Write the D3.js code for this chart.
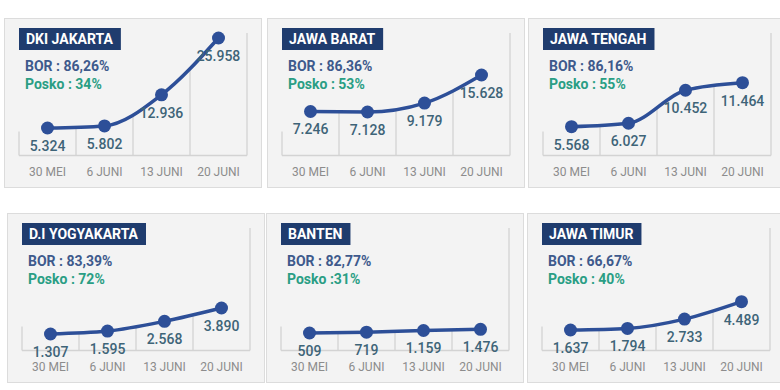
<!DOCTYPE html>
<html>
<head>
<meta charset="utf-8">
<script src="https://cdn.jsdelivr.net/npm/d3@7"></script>
<style>
  body { margin: 0; background: #fff; }
  svg { display: block; font-family: Roboto, "Noto Sans", sans-serif; }
</style>
</head>
<body>
<div id="chart"></div>
<script>
// Data
const dates = ["30 MEI", "6 JUNI", "13 JUNI", "20 JUNI"];
const provinces = ["DKI JAKARTA", "JAWA BARAT", "JAWA TENGAH", "D.I YOGYAKARTA", "BANTEN", "JAWA TIMUR"];
const borLabels = ["BOR : 86,26%", "BOR : 86,36%", "BOR : 86,16%", "BOR : 83,39%", "BOR : 82,77%", "BOR : 66,67%"];
const poskoLabels = ["Posko : 34%", "Posko : 53%", "Posko : 55%", "Posko : 72%", "Posko :31%", "Posko : 40%"];
const cases = [
  [5324, 5802, 12936, 25958],
  [7246, 7128, 9179, 15628],
  [5568, 6027, 10452, 11464],
  [1307, 1595, 2568, 3890],
  [509, 719, 1159, 1476],
  [1637, 1794, 2733, 4489]
];

// Layout
const width = 780, height = 390;
const panelW = 257, panelH = 169;
const panelPos = [[4, 18], [267, 18], [528, 18], [7, 213], [266, 213], [527, 213]];
// vertical pixel range (min value -> max value) of each little chart
const yRanges = [[110, 20], [94, 57], [108.7, 64.7], [121, 95], [120, 116.3], [117, 88.7]];
const axisY = 137.5;

const lineColor = "#2d4f98";
const gridColor = "#d3d3d3";

const idLocale = d3.formatLocale({decimal: ",", thousands: ".", grouping: [3], currency: ["Rp", ""]});
const fmt = idLocale.format(",d");

const svg = d3.select("#chart")
  .append("svg")
    .attr("width", width)
    .attr("height", height)
    .attr("viewBox", [0, 0, width, height]);

const xScale = d3.scaleBand()
  .domain(dates)
  .range([15, 243])
  .padding(0);

provinces.forEach((prov, i) => {
  const g = svg.append("g")
    .attr("transform", `translate(${panelPos[i][0]}, ${panelPos[i][1]})`);

  // panel background
  g.append("rect")
    .attr("x", 0.5).attr("y", 0.5)
    .attr("width", panelW).attr("height", panelH)
    .attr("fill", "#f3f3f3")
    .attr("stroke", "#dcdcdc");

  const values = cases[i];
  const yScale = d3.scaleLinear()
    .domain(d3.extent(values))
    .range(yRanges[i]);

  const pts = values.map((v, j) => ({date: dates[j], value: v}));

  const lineGenerator = d3.line()
    .x(d => xScale(d.date) + xScale.bandwidth() / 2)
    .y(d => yScale(d.value))
    .curve(d3.curveMonotoneX);

  const gridG = g.append("g");

  const path = g.append("path")
    .attr("d", lineGenerator(pts))
    .attr("fill", "none")
    .attr("stroke", lineColor)
    .attr("stroke-width", 3.5)
    .attr("stroke-linecap", "round");

  // find y of the curve at a given x (separators stop at the line)
  const node = path.node();
  const total = node.getTotalLength();
  const samples = d3.range(0, total, 0.5).map(l => node.getPointAtLength(l));
  const curveYAt = x => {
    const p = samples.reduce((a, b) => Math.abs(b.x - x) < Math.abs(a.x - x) ? b : a);
    return p.y;
  };

  // separators
  const bounds = dates.map(d => xScale(d)).concat([xScale.range()[1]]);
  gridG.selectAll("line.sep")
    .data(bounds)
    .join("line")
      .attr("class", "sep")
      .attr("x1", d => d).attr("x2", d => d)
      .attr("y1", axisY)
      .attr("y2", (d, k) => {
        if (k === 0) return axisY - 24;
        if (k === bounds.length - 1) return 15;
        return curveYAt(d);
      })
      .attr("stroke", gridColor)
      .attr("stroke-width", 1.3);
  gridG.append("line")
    .attr("x1", xScale.range()[0]).attr("x2", xScale.range()[1])
    .attr("y1", axisY).attr("y2", axisY)
    .attr("stroke", gridColor)
    .attr("stroke-width", 1.3);

  // x labels
  g.selectAll("text.xlab")
    .data(dates)
    .join("text")
      .attr("class", "xlab")
      .attr("x", d => xScale(d) + xScale.bandwidth() / 2)
      .attr("y", 158)
      .attr("text-anchor", "middle")
      .attr("fill", "#8c8c8c")
      .style("font-size", "12px")
      .text(d => d);

  // points
  g.selectAll("circle")
    .data(pts)
    .join("circle")
      .attr("cx", d => xScale(d.date) + xScale.bandwidth() / 2)
      .attr("cy", d => yScale(d.value))
      .attr("r", 6.5)
      .attr("fill", lineColor);

  // value labels
  g.selectAll("text.val")
    .data(pts)
    .join("text")
      .attr("class", "val")
      .attr("x", d => xScale(d.date) + xScale.bandwidth() / 2)
      .attr("y", d => yScale(d.value) + 18)
      .attr("dy", "0.35em")
      .attr("text-anchor", "middle")
      .attr("fill", "#3e6478")
      .style("font-size", "14px")
      .style("font-weight", 500)
      .text(d => fmt(d.value));

  // title box
  const title = g.append("text")
    .attr("x", 22)
    .attr("y", 26)
    .attr("fill", "#fff")
    .style("font-size", "14px")
    .style("font-weight", 700)
    .text(prov);
  const tw = title.node().getComputedTextLength();
  g.insert("rect", "text")
    .attr("x", 15).attr("y", 10)
    .attr("width", tw + 15).attr("height", 22)
    .attr("fill", "#1f3c6e");
  title.raise();

  g.append("text")
    .attr("x", 21).attr("y", 53)
    .attr("fill", "#3e5a8c")
    .style("font-size", "14px")
    .style("font-weight", 700)
    .text(borLabels[i]);
  g.append("text")
    .attr("x", 21).attr("y", 71)
    .attr("fill", "#2a9e84")
    .style("font-size", "14px")
    .style("font-weight", 700)
    .text(poskoLabels[i]);
});
</script>
</body>
</html>
